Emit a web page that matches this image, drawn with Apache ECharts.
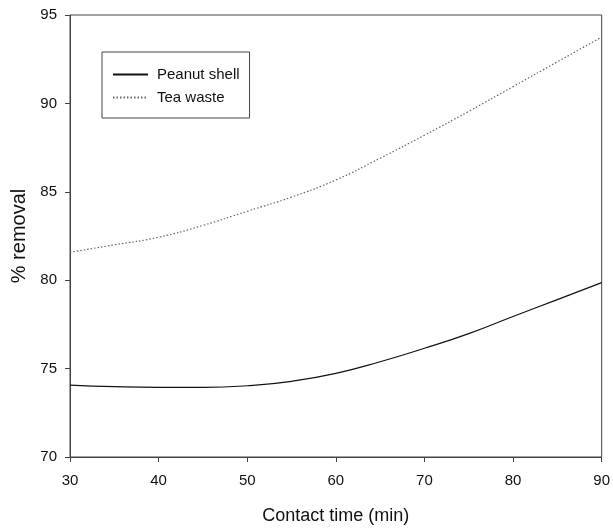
<!DOCTYPE html>
<html>
<head>
<meta charset="utf-8">
<script src="https://cdn.jsdelivr.net/npm/echarts@6/dist/echarts.min.js"></script>
<style>
  html, body { margin: 0; padding: 0; background: #fff; }
  #main { width: 613px; height: 531px; }
</style>
</head>
<body>
<div id="main"></div>
<script>
// contact time (min)
var times = [30, 35, 40, 45, 50, 55, 60, 65, 70, 75, 80, 85, 90];
// % removal
var peanutShell = [74.07, 73.98, 73.94, 73.94, 74.03, 74.28, 74.73, 75.39, 76.15, 76.98, 77.95, 78.9, 79.86];
var teaWaste = [81.58, 82.0, 82.43, 83.1, 83.9, 84.7, 85.67, 86.9, 88.2, 89.55, 90.95, 92.35, 93.75];
var xTicks = [30, 40, 50, 60, 70, 80, 90];
var yTicks = [70, 75, 80, 85, 90, 95];

function pairs(xs, ys) {
    var out = [];
    for (var i = 0; i < xs.length; i++) {
        out.push([xs[i], ys[i]]);
    }
    return out;
}

var myChart = echarts.init(document.getElementById('main'));
var font = 'Liberation Sans, Arial, sans-serif';

var option = {
    backgroundColor: '#fff',
    animation: false,
    grid: {
        left: 70,
        right: 10,
        top: 15,
        bottom: 74,
        show: true,
        borderColor: '#444',
        borderWidth: 1
    },
    legend: {
        orient: 'vertical',
        left: 102,
        top: 52,
        itemWidth: 35,
        itemHeight: 14,
        itemGap: 8,
        padding: [15, 10, 13, 10],
        borderColor: '#444',
        borderWidth: 1,
        itemStyle: { opacity: 0 },
        textStyle: {
            fontFamily: font,
            fontSize: 15,
            color: '#111',
            padding: [0, 0, 0, 4]
        },
        data: ['Peanut shell', 'Tea waste']
    },
    xAxis: {
        type: 'value',
        min: xTicks[0],
        max: xTicks[xTicks.length - 1],
        interval: 10,
        name: 'Contact time (min)',
        nameLocation: 'middle',
        nameGap: 50,
        nameTextStyle: { fontFamily: font, fontSize: 18, color: '#111' },
        axisLine: { lineStyle: { color: '#444', width: 1 } },
        axisTick: { show: true, length: 5, lineStyle: { color: '#444' } },
        axisLabel: { fontFamily: font, fontSize: 15, color: '#111', margin: 16 },
        splitLine: { show: false }
    },
    yAxis: {
        type: 'value',
        min: yTicks[0],
        max: yTicks[yTicks.length - 1],
        interval: 5,
        name: '% removal',
        nameLocation: 'middle',
        nameGap: 41,
        nameTextStyle: { fontFamily: font, fontSize: 20, color: '#111' },
        axisLine: { show: true, lineStyle: { color: '#444', width: 1 } },
        axisTick: { show: true, length: 5, lineStyle: { color: '#444' } },
        axisLabel: { fontFamily: font, fontSize: 15, color: '#111', margin: 13 },
        splitLine: { show: false }
    },
    series: [
        {
            name: 'Peanut shell',
            type: 'line',
            smooth: true,
            symbol: 'none',
            lineStyle: { color: '#111', width: 1.2, type: 'solid' },
            itemStyle: { color: '#111' },
            data: pairs(times, peanutShell)
        },
        {
            name: 'Tea waste',
            type: 'line',
            smooth: true,
            symbol: 'none',
            lineStyle: { color: '#666', width: 1.2, type: [1.5, 2] },
            itemStyle: { color: '#666' },
            data: pairs(times, teaWaste)
        }
    ]
};

myChart.setOption(option, true);
window.onresize = myChart.resize;
</script>
</body>
</html>
